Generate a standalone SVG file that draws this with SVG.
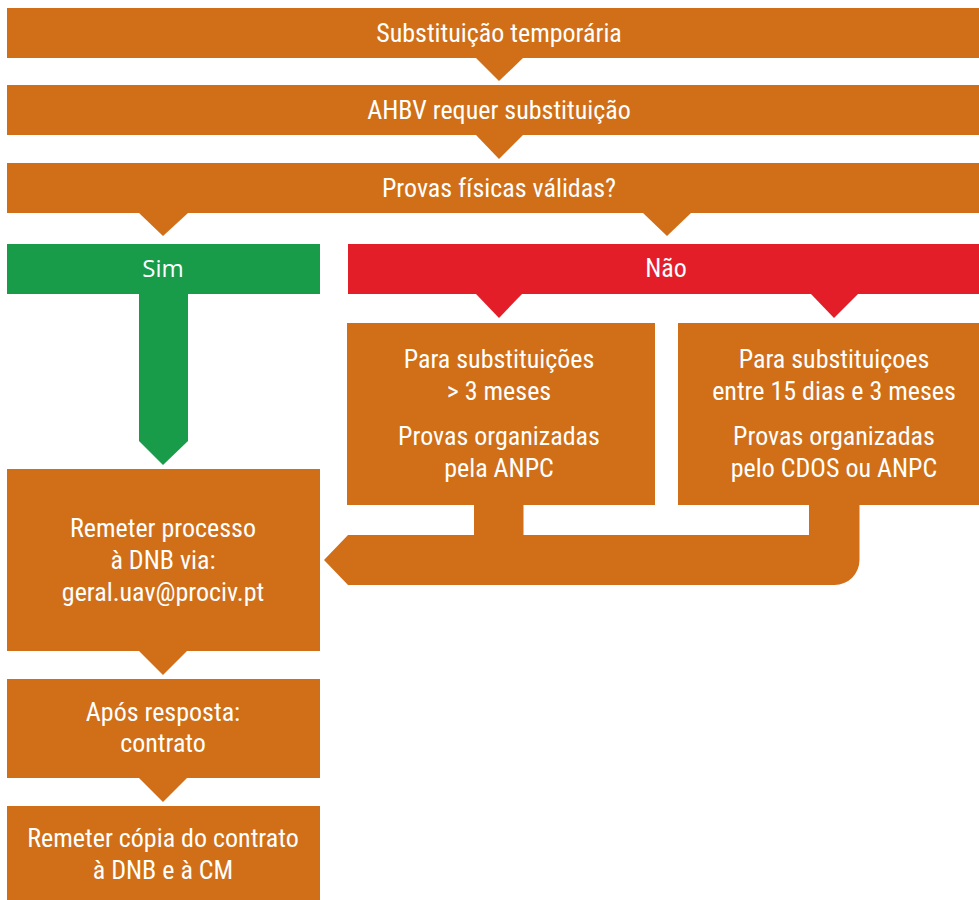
<svg xmlns="http://www.w3.org/2000/svg" width="979" height="900" viewBox="0 0 979 900">
<style>
.o{fill:#D06F18}
.g{fill:#189C4A}
.r{fill:#E31E28}
text{fill:#fff;font-family:"Liberation Sans Narrow","Roboto Condensed","Liberation Sans",sans-serif;font-size:26px;text-anchor:middle}
.sim{font-family:"Open Sans","Noto Sans",sans-serif;font-size:24px}
</style>
<rect width="979" height="900" fill="#fff"/>
<g id="connectors">
<polygon class="o" points="476,58 523,58 499,81"/>
<polygon class="o" points="476,135 523,135 499,159"/>
<polygon class="o" points="139,213 188,213 163,236"/>
<polygon class="o" points="643,213 691,213 667,236"/>
<polygon class="g" points="139,293 188,293 188,441 163,465 139,441"/>
<polygon class="r" points="476,294 522,294 499,318"/>
<polygon class="r" points="811,294 858,294 834,318"/>
<path class="o" d="M474,505 H523.5 V535 H809 V505 H859.5 V560 A25,25 0 0 1 834.5,585 H348 L324,560 L348,535 H474 Z"/>
<polygon class="o" points="139,651 187,651 163,675"/>
<polygon class="o" points="139,778 187,778 163,802"/>
</g>
<g id="n1"><rect class="o" x="7" y="8" width="984" height="50"/><text x="499" y="42">Substituição temporária</text></g>
<g id="n2"><rect class="o" x="7" y="85" width="984" height="50"/><text x="499" y="119">AHBV requer substituição</text></g>
<g id="n3"><rect class="o" x="7" y="163" width="984" height="50"/><text x="499" y="197">Provas físicas válidas?</text></g>
<g id="sim"><rect class="g" x="7" y="244" width="313" height="50"/><text class="sim" x="163" y="277">Sim</text></g>
<g id="nao"><rect class="r" x="348" y="244" width="636" height="50"/><text x="666" y="277">Não</text></g>
<g id="b1"><rect class="o" x="347" y="323" width="308" height="182"/>
<text x="499" y="368">Para substituições</text><text x="499" y="400">&gt; 3 meses</text>
<text x="499" y="445">Provas organizadas</text><text x="499" y="477">pela ANPC</text></g>
<g id="b2"><rect class="o" x="678" y="323" width="312" height="182"/>
<text x="834" y="368">Para substituiçoes</text><text x="834" y="400">entre 15 dias e 3 meses</text>
<text x="834" y="445">Provas organizadas</text><text x="834" y="477">pelo CDOS ou ANPC</text></g>
<g id="remeter"><rect class="o" x="7" y="469" width="313" height="182"/>
<text x="163" y="537">Remeter processo</text><text x="163" y="569">à DNB via:</text><text x="163" y="601">geral.uav@prociv.pt</text></g>
<g id="apos"><rect class="o" x="7" y="679" width="313" height="99"/>
<text x="163" y="721">Após resposta:</text><text x="163" y="752">contrato</text></g>
<g id="copia"><rect class="o" x="7" y="806" width="313" height="94"/>
<text x="163" y="847">Remeter cópia do contrato</text><text x="163" y="879">à DNB e à CM</text></g>
</svg>
